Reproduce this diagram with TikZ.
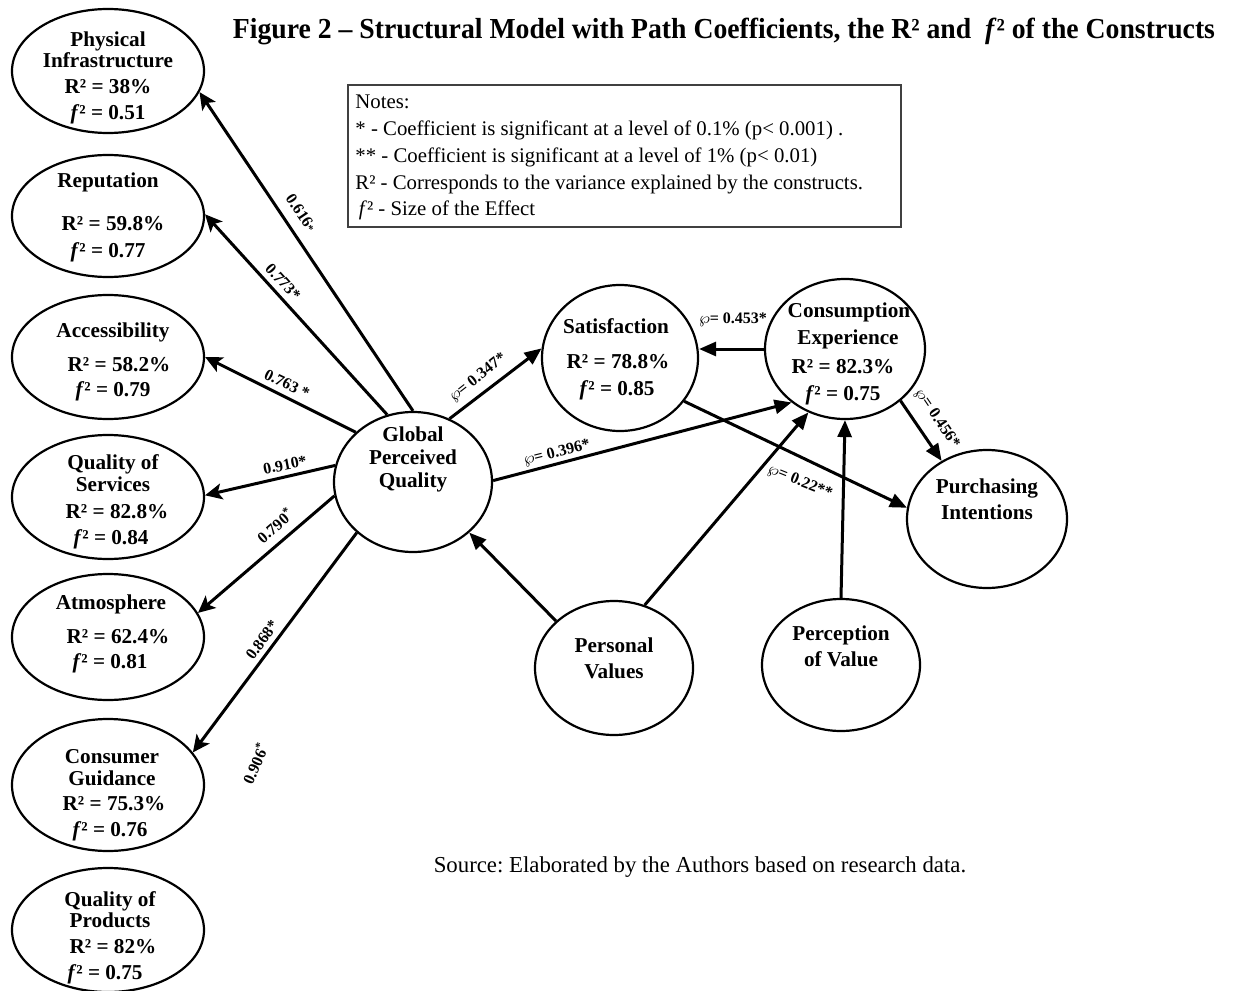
\documentclass[tikz,border=0pt]{standalone}
\usepackage{fontspec}
\setmainfont{Liberation Serif}
\usetikzlibrary{shapes.geometric, arrows.meta}
\frenchspacing
\begin{document}
\begin{tikzpicture}[x=0.5pt, y=-0.5pt,
  ell/.style={draw, ellipse, line width=1.1pt, inner sep=0pt},
  T/.style={font=\bfseries\fontsize{10.6}{12}\selectfont, inner sep=0pt, text height=0.68em, text depth=0pt},
  coef/.style={font=\bfseries\fontsize{8}{9}\selectfont, inner sep=0pt},
  note/.style={font=\fontsize{10.4}{12}\selectfont, inner sep=0pt, anchor=west, text height=0.68em, text depth=0pt},
  arr/.style={line width=1.5pt, -{Stealth[length=8.5pt, width=8pt, inset=2pt]}},
  arrt/.style={line width=1.5pt, -{Triangle[length=8.5pt, width=7pt]}},
]
\useasboundingbox (0,0) rectangle (1236,990);

% title
\node[font=\bfseries\fontsize{14.5}{16}\selectfont, inner sep=0pt] (title) at (724,31)
  {\resizebox{491pt}{\height}{Figure 2 – Structural Model with Path Coefficients, the R² and \ \textit{f}² of the Constructs}};

% notes box
\node[draw=black!75, line width=0.8pt, inner sep=0pt, minimum width=276.5pt, minimum height=71pt, anchor=north west] (notes) at (347,84) {};
\node[note] (n1) at (355,102) {Notes:};
\node[note] (n2) at (355,129) {* - Coefficient is significant at a level of 0.1\% (p< 0.001) .};
\node[note] (n3) at (355,156) {** - Coefficient is significant at a level of 1\% (p< 0.01)};
\node[note] (n4) at (355,183) {R² - Corresponds to the variance explained by the constructs.};
\node[note] (n5) at (355,209) {\,\textit{f}² - Size of the Effect};

% source
\node[font=\fontsize{11.4}{13}\selectfont, inner sep=0pt] (src) at (700,867) {Source: Elaborated by the Authors based on research data.};

% left constructs
\node[ell, minimum width=96pt, minimum height=62pt] (PI) at (108,71) {};
\node[ell, minimum width=96pt, minimum height=61pt] (RE) at (108,216) {};
\node[ell, minimum width=96pt, minimum height=62pt] (AC) at (108,357) {};
\node[ell, minimum width=96pt, minimum height=62pt] (QS) at (108,497) {};
\node[ell, minimum width=96pt, minimum height=63pt] (AT) at (108,637) {};
\node[ell, minimum width=96pt, minimum height=66pt] (CG) at (108,785) {};
\node[ell, minimum width=96pt, minimum height=62pt] (QP) at (108,930) {};

% central constructs
\node[ell, minimum width=79pt, minimum height=70pt] (GPQ) at (413,482) {};
\node[ell, minimum width=78pt, minimum height=73pt] (SAT) at (620,358) {};
\node[ell, minimum width=80pt, minimum height=70pt] (CE) at (845,349) {};
\node[ell, minimum width=80pt, minimum height=69pt] (PUR) at (987,519) {};
\node[ell, minimum width=79pt, minimum height=67pt] (PV) at (614,668) {};
\node[ell, minimum width=79pt, minimum height=66pt] (POV) at (841,665) {};

% texts in left constructs
\node[T] (pi1) at (108,40) {Physical};
\node[T] (pi2) at (108,61) {Infrastructure};
\node[T] (pi3) at (108,87) {R² = 38\%};
\node[T] (pi4) at (108,113) {\textit{f}² = 0.51};
\node[T] (re1) at (108,181) {Reputation};
\node[T] (re2) at (113,224) {R² = 59.8\%};
\node[T] (re3) at (108,251) {\textit{f}² = 0.77};
\node[T] (ac1) at (113,331) {Accessibility};
\node[T] (ac2) at (119,365) {R² = 58.2\%};
\node[T] (ac3) at (113,390) {\textit{f}² = 0.79};
\node[T] (qs1) at (113,463) {Quality of};
\node[T] (qs2) at (113,485) {Services};
\node[T] (qs3) at (117,512) {R² = 82.8\%};
\node[T] (qs4) at (111,538) {\textit{f}² = 0.84};
\node[T] (at1) at (111,603) {Atmosphere};
\node[T] (at2) at (118,637) {R² = 62.4\%};
\node[T] (at3) at (110,662) {\textit{f}² = 0.81};
\node[T] (cg1) at (112,757) {Consumer};
\node[T] (cg2) at (112,779) {Guidance};
\node[T] (cg3) at (114,804) {R² = 75.3\%};
\node[T] (cg4) at (110,830) {\textit{f}² = 0.76};
\node[T] (qp1) at (110,900) {Quality of};
\node[T] (qp2) at (110,921) {Products};
\node[T] (qp3) at (113,947) {R² = 82\%};
\node[T] (qp4) at (105,973) {\textit{f}² = 0.75};

% texts in central constructs
\node[T] (g1) at (413,435) {Global};
\node[T] (g2) at (413,458) {Perceived};
\node[T] (g3) at (413,481) {Quality};
\node[T] (s1) at (616,327) {Satisfaction};
\node[T] (s2) at (618,362) {R² = 78.8\%};
\node[T] (s3) at (617,389) {\textit{f}² = 0.85};
\node[T] (c1) at (849,311) {Consumption};
\node[T] (c2) at (848,338) {Experience};
\node[T] (c3) at (843,367) {R² = 82.3\%};
\node[T] (c4) at (843,394) {\textit{f}² = 0.75};
\node[T] (p1) at (987,487) {Purchasing};
\node[T] (p2) at (987,513) {Intentions};
\node[T] (v1) at (614,646) {Personal};
\node[T] (v2) at (614,672) {Values};
\node[T] (o1) at (841,634) {Perception};
\node[T] (o2) at (841,660) {of Value};

% connectors
\draw[arr] (GPQ.90) -- (PI.-13);
\draw[arr] (GPQ.111) -- (RE.1);
\draw[arr] (GPQ.139) -- (AC.0);
\draw[arr] (GPQ.168) -- (QS.1);
\draw[arr] (GPQ.190) -- (AT.15);
\draw[arr] (GPQ.222) -- (CG.21);
\draw[arrt] (GPQ.60) -- (SAT.173);
\draw[arrt] (GPQ.1.5) -- (CE.225);
\draw[arrt] (CE.west) -- (CE.west -| SAT.east);
\draw[arrt] (SAT.-34) -- (PUR.172);
\draw[arrt] (CE.-43) -- (PUR.128);
\draw[arrt] (PV.141) -- (GPQ.-42);
\draw[arrt] (PV.64) -- (CE.240);
\draw[arrt] (POV.north) -- (CE.south);

% coefficient labels
\node[coef, rotate=-56] (l1) at (301,213) {0.616{\fontsize{5.5}{6}\selectfont*}};
\node[coef, rotate=-48] (l2) at (283,282) {0.773*};
\node[coef, rotate=-26] (l3) at (287,384) {0.763 *};
\node[coef, rotate=11] (l4) at (285,465) {0.910*};
\node[coef, rotate=41] (l5) at (275,525) {0.790\textsuperscript{*}};
\node[coef, rotate=54] (l6) at (262,640) {0.868*};
\node[coef, rotate=66] (l7) at (255,763) {0.906\textsuperscript{*}};
\node[coef, rotate=38] (l8) at (478,378) {$\wp$= 0.347*};
\node[coef, rotate=14] (l9) at (557,453) {$\wp$= 0.396*};
\node[coef] (l10) at (733,320) {$\wp$= 0.453*};
\node[coef, rotate=-22] (l11) at (800,482) {$\wp$= 0.22**};
\node[coef, rotate=-56] (l12) at (937,419) {$\wp$= 0.456*};
\end{tikzpicture}
\end{document}
